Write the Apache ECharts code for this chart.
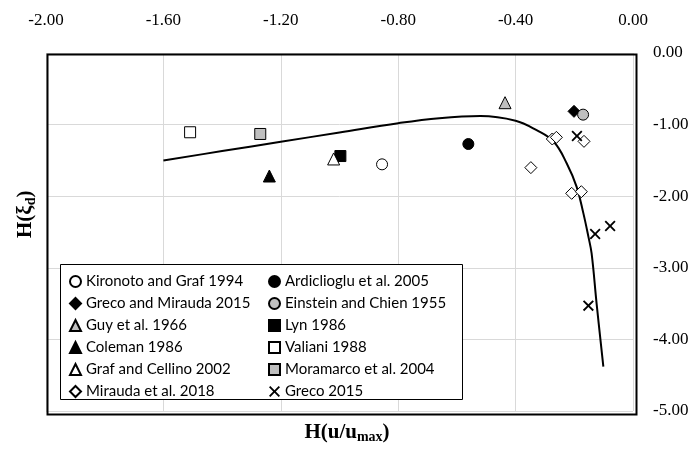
<!DOCTYPE html>
<html>
<head>
<meta charset="utf-8">
<script src="https://cdn.jsdelivr.net/npm/echarts@6/dist/echarts.min.js"></script>
<style>
  html, body { margin: 0; padding: 0; background: #fff; }
  #main { width: 694px; height: 450px; }
</style>
</head>
<body>
<div id="main"></div>
<script>
// axis ticks
var xTicks = [-2.0, -1.6, -1.2, -0.8, -0.4, 0.0];
var yTicks = [0, -1, -2, -3, -4, -5];

// measured points [H(u/umax), H(xi_d)]
var kironoto = [[-0.855, -1.555]];
var ardiclioglu = [[-0.561, -1.271]];
var grecoMirauda = [[-0.201, -0.815]];
var einstein = [[-0.170, -0.861]];
var guy = [[-0.436, -0.694]];
var lyn = [[-0.997, -1.439]];
var coleman = [[-1.239, -1.718]];
var valiani = [[-1.509, -1.107]];
var grafCellino = [[-1.020, -1.480]];
var moramarco = [[-1.270, -1.131]];
var mirauda = [[-0.275, -1.201], [-0.261, -1.178], [-0.167, -1.234], [-0.348, -1.601], [-0.209, -1.960], [-0.176, -1.937]];
var greco = [[-0.191, -1.159], [-0.078, -2.416], [-0.129, -2.528], [-0.152, -3.529]];

// fitted curve
var curve = [[-1.60, -1.50], [-1.40, -1.37], [-1.20, -1.24], [-1.00, -1.11], [-0.80, -0.98], [-0.66, -0.91],
  [-0.52, -0.88], [-0.40, -0.945], [-0.33, -1.075], [-0.27, -1.24], [-0.226, -1.54], [-0.192, -1.87],
  [-0.169, -2.24], [-0.152, -2.565], [-0.141, -2.80], [-0.124, -3.50], [-0.101, -4.38]];

var legendLeft = ['Kironoto and Graf 1994', 'Greco and Mirauda 2015', 'Guy et al. 1966', 'Coleman 1986', 'Graf and Cellino 2002', 'Mirauda et al. 2018'];
var legendRight = ['Ardiclioglu et al. 2005', 'Einstein and Chien 1955', 'Lyn 1986', 'Valiani 1988', 'Moramarco et al. 2004', 'Greco 2015'];

var GRAY = '#bfbfbf';
var CROSS = 'path://M0,1.2L1.2,0L5,3.8L8.8,0L10,1.2L6.2,5L10,8.8L8.8,10L5,6.2L1.2,10L0,8.8L3.8,5Z';

function pts(name, data, symbol, fill, size) {
  return {
    name: name,
    type: 'scatter',
    data: data,
    symbol: symbol,
    symbolSize: size,
    z: 5,
    itemStyle: { color: fill, opacity: 1, borderColor: '#000', borderWidth: symbol === CROSS ? 0 : 1 }
  };
}

var myChart = echarts.init(document.getElementById('main'));
var serif = '"Liberation Serif", "DejaVu Serif", serif';
var legendText = { fontFamily: 'Lato, "Open Sans", sans-serif', fontSize: 15, color: '#000' };

var option = {
  animation: false,
  grid: { left: 46, right: 61, top: 53, bottom: 39 },
  xAxis: {
    type: 'value', position: 'top',
    min: xTicks[0], max: xTicks[xTicks.length - 1], interval: 0.4,
    axisLine: { show: false }, axisTick: { show: false },
    axisLabel: { margin: 24, color: '#000', fontFamily: serif, fontSize: 17, formatter: function (v) { return v.toFixed(2); } },
    splitLine: { lineStyle: { color: '#d9d9d9', width: 1 } }
  },
  yAxis: {
    type: 'value', position: 'right',
    min: yTicks[yTicks.length - 1], max: yTicks[0], interval: 1,
    axisLine: { show: false }, axisTick: { show: false },
    axisLabel: { margin: 20, color: '#000', fontFamily: serif, fontSize: 17, formatter: function (v) { return v.toFixed(2); } },
    splitLine: { lineStyle: { color: '#d9d9d9', width: 1 } }
  },
  legend: [
    { orient: 'vertical', left: 64, top: 269, itemWidth: 11, itemHeight: 11, itemGap: 7, textStyle: legendText, data: legendLeft, z: 10 },
    { orient: 'vertical', left: 263, top: 269, itemWidth: 11, itemHeight: 11, itemGap: 7, textStyle: legendText, data: legendRight, z: 10 }
  ],
  graphic: [
    // plot frame
    { type: 'rect', left: 45, top: 52, z: 9, silent: true, shape: { width: 589, height: 360 }, style: { fill: 'none', stroke: '#000', lineWidth: 2 } },
    // legend box
    { type: 'rect', left: 60, top: 264, z: 8, shape: { width: 402, height: 135 }, style: { fill: '#fff', stroke: '#000', lineWidth: 1 } },
    {
      type: 'text', left: 'center', top: 422, z: 10,
      style: {
        text: '{a|H(u/u}{b|max}{a|)}',
        rich: {
          a: { fontFamily: serif, fontWeight: 'bold', fontSize: 21, fill: '#000' },
          b: { fontFamily: serif, fontWeight: 'bold', fontSize: 14, fill: '#000', padding: [10, 0, 0, 0] }
        }
      }
    },
    {
      type: 'text', x: 14, y: 238, rotation: Math.PI / 2, z: 10,
      style: {
        text: '{a|H(ξ}{b|d}{a|)}',
        rich: {
          a: { fontFamily: serif, fontWeight: 'bold', fontSize: 21, fill: '#000' },
          b: { fontFamily: serif, fontWeight: 'bold', fontSize: 14, fill: '#000', padding: [10, 0, 0, 0] }
        }
      }
    }
  ],
  series: [
    { name: 'curve', type: 'line', data: curve, smooth: 0.4, showSymbol: false, z: 4, lineStyle: { color: '#000', width: 2 } },
    pts('Kironoto and Graf 1994', kironoto, 'circle', '#fff', 11),
    pts('Ardiclioglu et al. 2005', ardiclioglu, 'circle', '#000', 11),
    pts('Greco and Mirauda 2015', grecoMirauda, 'diamond', '#000', 12),
    pts('Einstein and Chien 1955', einstein, 'circle', GRAY, 11),
    pts('Guy et al. 1966', guy, 'triangle', GRAY, 12),
    pts('Lyn 1986', lyn, 'rect', '#000', 11),
    pts('Coleman 1986', coleman, 'triangle', '#000', 12),
    pts('Valiani 1988', valiani, 'rect', '#fff', 11),
    pts('Graf and Cellino 2002', grafCellino, 'triangle', '#fff', 12),
    pts('Moramarco et al. 2004', moramarco, 'rect', GRAY, 11),
    pts('Mirauda et al. 2018', mirauda, 'diamond', '#fff', 12),
    pts('Greco 2015', greco, CROSS, '#000', 11)
  ]
};

myChart.setOption(option);
</script>
</body>
</html>
